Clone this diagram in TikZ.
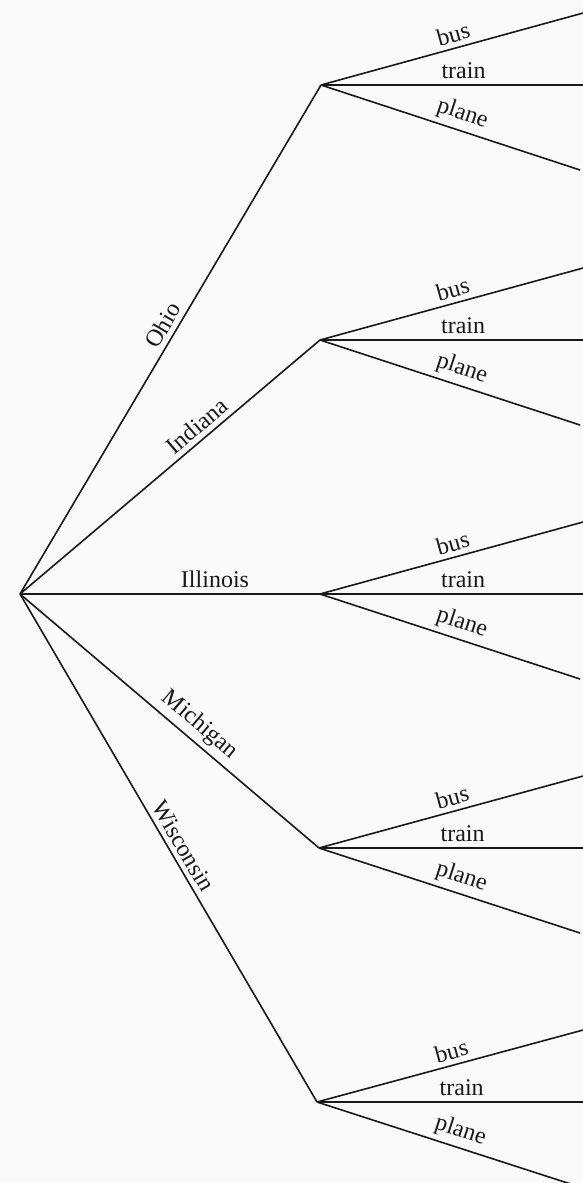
\documentclass[tikz,border=0pt]{standalone}
\usepackage{fontspec}
\setmainfont{Liberation Serif}
\definecolor{bg}{RGB}{250,250,250}
\definecolor{ink}{RGB}{25,25,25}
\tikzset{
  lbl/.style={font=\fontsize{12}{14}\selectfont, sloped, above, inner sep=2.5pt, text=ink},
  branch/.style={draw=ink, line width=0.8pt},
}
\begin{document}
\begin{tikzpicture}[x=0.5pt,y=-0.5pt]
\useasboundingbox (0,0) rectangle (583,1183);
\fill[bg] (0,0) rectangle (583,1183);
\coordinate (root) at (20,594);
\coordinate (oh) at (321,85);
\coordinate (in) at (320,340);
\coordinate (il) at (320,594);
\coordinate (mi) at (319,848);
\coordinate (wi) at (317,1102);
\draw[branch] (root) -- node[lbl,pos=0.514]{Ohio} (oh);
\draw[branch] (root) -- node[lbl,pos=0.62]{Indiana} (in);
\draw[branch] (root) -- node[lbl,pos=0.65]{Illinois} (il);
\draw[branch] (root) -- node[lbl,pos=0.565]{Michigan} (mi);
\draw[branch] (root) -- node[lbl,pos=0.51]{Wisconsin} (wi);
\foreach \s/\x/\y in {oh/321/85, in/320/340, il/320/594, mi/319/848, wi/317/1102}{
  \coordinate (\s-b) at (585,\y-72.5);
  \coordinate (\s-t) at (585,\y);
  \coordinate (\s-p) at (580,\y+85);
  \draw[branch] (\s) -- node[lbl,pos=0.515]{bus} (\s-b);
  \draw[branch] (\s) -- node[lbl,pos=0.54]{train} (\s-t);
  \draw[branch] (\s) -- node[lbl,pos=0.526]{plane} (\s-p);
}
\end{tikzpicture}
\end{document}
